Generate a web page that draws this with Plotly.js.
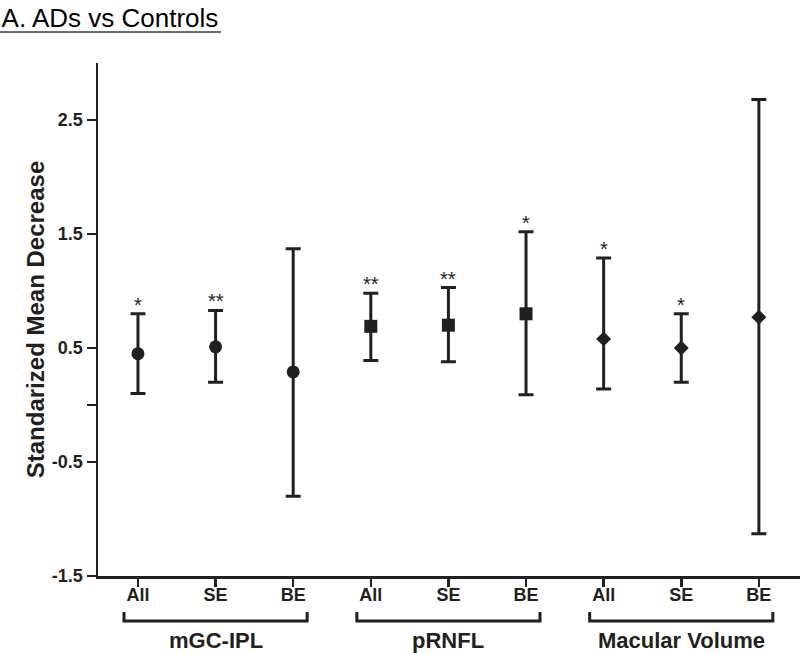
<!DOCTYPE html>
<html>
<head>
<meta charset="utf-8">
<script src="https://cdn.plot.ly/plotly-3.0.1.min.js"></script>
<style>html,body{margin:0;padding:0;background:#fff;}#chart{width:800px;height:653px;}</style>
</head>
<body>
<div id="chart"></div>
<script>
// ---- data ----
const categories = ["All", "SE", "BE", "All", "SE", "BE", "All", "SE", "BE"];
const groups = ["mGC-IPL", "pRNFL", "Macular Volume"];
const meanValues = [0.45, 0.51, 0.29, 0.69, 0.70, 0.80, 0.58, 0.50, 0.77];
const upperCI = [0.80, 0.83, 1.37, 0.98, 1.03, 1.52, 1.29, 0.80, 2.68];
const lowerCI = [0.10, 0.20, -0.80, 0.39, 0.38, 0.09, 0.14, 0.20, -1.13];
const significance = ["*", "**", "", "**", "**", "*", "*", "*", ""];
const yTickValues = [-1.5, -0.5, 0, 0.5, 1.5, 2.5];
const yTickLabels = ["-1.5", "-0.5", "", "0.5", "1.5", "2.5"];

const ink = "#231f20";
const fontFam = "Liberation Sans, Arial, Helvetica, sans-serif";
const symbols = ["circle", "square", "diamond"];
const sizes = [13, 13, 11.5];

const traces = groups.map((g, gi) => {
  const idx = [gi * 3, gi * 3 + 1, gi * 3 + 2];
  return {
    type: "scatter",
    mode: "markers",
    name: g,
    x: idx,
    y: idx.map(i => meanValues[i]),
    marker: {symbol: symbols[gi], size: sizes[gi], color: ink, line: {width: 0}},
    error_y: {
      type: "data", symmetric: false,
      array: idx.map(i => upperCI[i] - meanValues[i]),
      arrayminus: idx.map(i => meanValues[i] - lowerCI[i]),
      color: ink, thickness: 3, width: 7.5
    },
    cliponaxis: false,
    hoverinfo: "x+y"
  };
});

const annotations = [];
significance.forEach((s, i) => {
  if (!s) return;
  annotations.push({
    x: i, y: upperCI[i], xref: "x", yref: "y",
    text: s, showarrow: false, yanchor: "bottom", yshift: -4,
    font: {family: fontFam, size: 20, color: ink}
  });
});
groups.forEach((g, gi) => {
  annotations.push({
    x: gi * 3 + 1, y: -0.1267, xref: "x", yref: "paper",
    text: g, showarrow: false, yanchor: "middle",
    font: {family: fontFam, size: 22, color: ink, weight: "bold"}
  });
});

const shapes = groups.map((g, gi) => {
  const x0 = gi * 3 - 0.18, x1 = gi * 3 + 2.18;
  const yt = -0.0702, yb = -0.0877;
  return {
    type: "path", xref: "x", yref: "paper",
    path: `M ${x0},${yt} L ${x0},${yb} L ${x1},${yb} L ${x1},${yt}`,
    line: {color: ink, width: 3}
  };
});
// title underline
shapes.push({
  type: "line", xref: "paper", yref: "paper",
  x0: -0.1396, x1: 0.1752, y0: 1.0604, y1: 1.0604,
  line: {color: "#6d6e71", width: 2}
});

const layout = {
  width: 800, height: 653,
  margin: {l: 98, r: 0, t: 63, b: 77, pad: 0},
  paper_bgcolor: "#fff", plot_bgcolor: "#fff",
  showlegend: false,
  font: {family: fontFam, color: ink},
  title: {
    text: "A. ADs vs Controls",
    xref: "container", yref: "container",
    x: 0.002, xanchor: "left", y: 0.987, yanchor: "top",
    font: {family: fontFam, size: 26, color: "#000"}
  },
  xaxis: {
    range: [-0.515, 8.53],
    tickmode: "array",
    tickvals: categories.map((c, i) => i),
    ticktext: categories,
    showline: true, linecolor: ink, linewidth: 2.5,
    ticks: "outside", ticklen: 8, tickwidth: 2.5, tickcolor: ink,
    ticklabelstandoff: -7,
    showgrid: false, zeroline: false,
    tickfont: {family: fontFam, size: 18, color: ink, weight: "bold"}
  },
  yaxis: {
    range: [-1.5, 3.0],
    tickmode: "array",
    tickvals: yTickValues,
    ticktext: yTickLabels,
    showline: true, linecolor: ink, linewidth: 2.5,
    ticks: "outside", ticklen: 9, tickwidth: 2.5, tickcolor: ink,
    showgrid: false, zeroline: false,
    tickfont: {family: fontFam, size: 18, color: ink, weight: "bold"},
    title: {
      text: "Standarized Mean Decrease",
      standoff: 1,
      font: {family: fontFam, size: 24, color: ink, weight: "bold"}
    }
  },
  annotations: annotations,
  shapes: shapes
};

Plotly.newPlot("chart", traces, layout, {staticPlot: true, displayModeBar: false});
</script>
</body>
</html>
